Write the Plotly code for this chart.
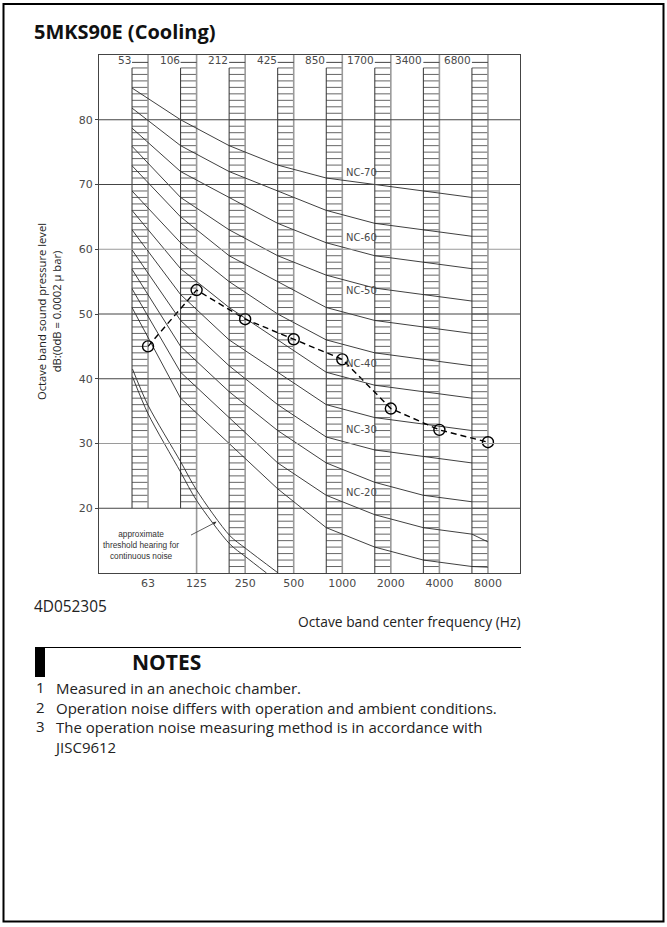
import plotly.graph_objects as go

# ---------------- data ----------------
bands = ["63", "125", "250", "500", "1000", "2000", "4000", "8000"]
top_labels = ["53", "106", "212", "425", "850", "1700", "3400", "6800"]
measured_db = [45.0, 53.7, 49.2, 46.1, 43.0, 35.4, 32.1, 30.2]

nc_names = ["NC-70", "NC-65", "NC-60", "NC-55", "NC-50", "NC-45",
            "NC-40", "NC-35", "NC-30", "NC-25", "NC-20", "NC-15"]
# NC curve values read at the 53 / 106 / 212 / ... / 6800 lines
nc_70 = [84.9, 80, 76, 73, 71, 70, 69, 68]
nc_65 = [81.8, 76, 72, 69, 66, 64, 63, 62]
nc_60 = [78.7, 72, 68, 64, 61, 59, 58, 57]
nc_55 = [75.9, 68, 63, 59, 56, 54, 53, 52]
nc_50 = [72.9, 65, 59, 55, 51, 49, 48, 47]
nc_45 = [69.0, 61, 55, 50, 46, 44, 43, 42]
nc_40 = [66.0, 57, 51, 46, 41, 39, 38, 37]
nc_35 = [63.0, 53, 46, 41, 36, 34, 33, 32]
nc_30 = [59.9, 49, 42, 36, 31, 29, 28, 27]
nc_25 = [56.9, 45, 38, 32, 27, 24, 22, 21]
nc_20 = [53.9, 41, 34, 27, 22, 19, 17, 16]
nc_15 = [51.0, 37, 30, 23, 17, 14, 12, 11]
nc_curves = [nc_70, nc_65, nc_60, nc_55, nc_50, nc_45,
             nc_40, nc_35, nc_30, nc_25, nc_20, nc_15]
# value of the lowest curves continued to the 8000 line
nc_8000_ext = [None] * 10 + [14.8, 10.9]

labelled_nc = ["NC-70", "NC-60", "NC-50", "NC-40", "NC-30", "NC-20"]
label_db = [71.8, 61.8, 53.6, 42.4, 32.1, 22.5]

# approximate threshold of hearing (two lines); x in octaves from 63 Hz
thr_oct_a = [-0.32, 0.0, 0.67, 1.0, 1.68, 2.01, 2.68]
thr_db_a = [41.5, 35.9, 27.2, 22.8, 15.8, 13.8, 10.0]
thr_oct_b = [-0.32, 0.0, 0.67, 1.0, 1.68, 2.01, 2.44]
thr_db_b = [40.3, 34.6, 25.6, 21.2, 14.5, 12.5, 10.0]

col_bottom_db = [20, 20, 10, 10, 10, 10, 10, 10]
col_top_db = 88
y_min, y_max = 10, 90
y_ticks = [20, 30, 40, 50, 60, 70, 80]

notes = ["Measured in an anechoic chamber.",
         "Operation noise differs with operation and ambient conditions.",
         "The operation noise measuring method is in accordance with<br>JISC9612"]

# ---------------- layout constants ----------------
FIG_W, FIG_H = 667, 927
L, R, T, B = 99, 520, 55, 573
PW, PH = R - L, B - T
W_COL = 0.33  # hatched column width (octaves)
X_RANGE = [-1.01, 7.66]

def px(x):
    return (x - L) / PW

def py(y):
    return (B - y) / PH

TXT_C = "#4a4a4a"
CAD_FONT = "DejaVu Sans"
TEXT_FONT = "Open Sans"

fig = go.Figure()

# hatching of the band columns
hx, hy = [], []
for i in range(len(bands)):
    for d in range(col_bottom_db[i] + 1, col_top_db + 1):
        hx += [i - W_COL, i, None]
        hy += [d, d, None]
fig.add_trace(go.Scatter(x=hx, y=hy, mode="lines",
                         line=dict(color="#555555", width=0.9),
                         hoverinfo="skip", showlegend=False))

# column left edges (dark) and centre lines (grey)
vx, vy = [], []
for i in range(len(bands)):
    vx += [i - W_COL, i - W_COL, None]
    vy += [col_bottom_db[i], col_top_db, None]
fig.add_trace(go.Scatter(x=vx, y=vy, mode="lines",
                         line=dict(color="#333333", width=1),
                         hoverinfo="skip", showlegend=False))
cx, cy = [], []
for i in range(len(bands)):
    bottom = y_min if i >= 1 else col_bottom_db[i]
    cx += [i, i, None]
    cy += [bottom, y_max, None]
fig.add_trace(go.Scatter(x=cx, y=cy, mode="lines",
                         line=dict(color="#9a9a9a", width=1.6),
                         hoverinfo="skip", showlegend=False))

# horizontal grid lines
for v in y_ticks:
    fig.add_shape(type="line", xref="x", yref="y", x0=X_RANGE[0], x1=X_RANGE[1],
                  y0=v, y1=v, line=dict(color="#9a9a9a" if v in (30, 60) else "#444444",
                                        width=1.2 if v in (30, 60) else 1),
                  layer="above")

# NC curves
for k, vals in enumerate(nc_curves):
    xs = [i - W_COL for i in range(len(vals))]
    ys = list(vals)
    if nc_8000_ext[k] is not None:
        xs.append(len(vals) - 1)
        ys.append(nc_8000_ext[k])
    fig.add_trace(go.Scatter(x=xs, y=ys, mode="lines", name=nc_names[k],
                             line=dict(color="#2a2a2a", width=0.9),
                             hoverinfo="skip", showlegend=False))

# threshold of hearing
for xo, yd in ((thr_oct_a, thr_db_a), (thr_oct_b, thr_db_b)):
    fig.add_trace(go.Scatter(x=xo, y=yd, mode="lines",
                             line=dict(color="#2a2a2a", width=0.9, shape="spline",
                                       smoothing=0.8),
                             hoverinfo="skip", showlegend=False))

# measured data
fig.add_trace(go.Scatter(x=list(range(len(bands))), y=measured_db, mode="lines+markers",
                         line=dict(color="black", width=1.4, dash="6px,4px"),
                         marker=dict(symbol="circle-open", size=11,
                                     line=dict(color="black", width=1.4)),
                         hoverinfo="skip", showlegend=False))

ann = []
# NC labels
for name, yv in zip(labelled_nc, label_db):
    ann.append(dict(x=4.08, y=yv, xref="x", yref="y", text=name, showarrow=False,
                    xanchor="left", yanchor="middle", xshift=-2,
                    font=dict(family=CAD_FONT, size=10, color=TXT_C)))
# top band-limit labels with dash
for i, t in enumerate(top_labels):
    ann.append(dict(x=i - W_COL, y=89.2, xref="x", yref="y", text=t, showarrow=False,
                    xanchor="right", yanchor="middle", xshift=1,
                    font=dict(family=CAD_FONT, size=10.5, color=TXT_C)))
    fig.add_shape(type="line", xref="x", yref="y", x0=i - W_COL, x1=i,
                  y0=88.86, y1=88.86, line=dict(color="#444444", width=1))

# threshold note and arrow
ann.append(dict(x=-0.14, y=14.4, xref="x", yref="y",
                text="approximate<br>threshold hearing for<br>continuous noise",
                showarrow=False, xanchor="center", yanchor="middle",
                font=dict(family="Liberation Sans", size=8.3, color="#333333")))
ann.append(dict(x=1.41, y=17.9, xref="x", yref="y", text="", showarrow=True,
                ax=-27, ay=14, arrowhead=2, arrowsize=0.8, arrowwidth=0.8,
                arrowcolor="#333333"))

# titles and texts around
ann.append(dict(x=px(32), y=py(32), xref="paper", yref="paper",
                text="<b>5MKS90E (Cooling)</b>", showarrow=False,
                xanchor="left", yanchor="middle",
                font=dict(family=TEXT_FONT, size=20, color="#111111")))
ann.append(dict(x=px(49), y=py(312), xref="paper", yref="paper",
                text="Octave band sound pressure level<br>dB:(0dB = 0.0002 µ bar)",
                showarrow=False, textangle=-90, xanchor="center", yanchor="middle",
                font=dict(family=TEXT_FONT, size=11.2, color="#222222")))
ann.append(dict(x=px(522), y=py(621), xref="paper", yref="paper",
                text="Octave band center frequency (Hz)", showarrow=False,
                xanchor="right", yanchor="middle",
                font=dict(family=TEXT_FONT, size=13.8, color="#222222")))
ann.append(dict(x=px(32), y=py(606), xref="paper", yref="paper",
                text="4D052305", showarrow=False, xanchor="left", yanchor="middle",
                font=dict(family=TEXT_FONT, size=15.4, color="#222222")))
ann.append(dict(x=px(130), y=py(662), xref="paper", yref="paper",
                text="<b>NOTES</b>", showarrow=False, xanchor="left", yanchor="middle",
                font=dict(family=TEXT_FONT, size=21, color="#111111")))
note_y = [687, 707, 726]
for n, (txt, yy) in enumerate(zip(notes, note_y), start=1):
    ann.append(dict(x=px(34), y=py(yy), xref="paper", yref="paper",
                    text=str(n), showarrow=False, xanchor="left", yanchor="middle",
                    font=dict(family=TEXT_FONT, size=15, color="#222222")))
    ann.append(dict(x=px(54), y=py(yy), xref="paper", yref="paper",
                    text=txt, showarrow=False, xanchor="left", yanchor="top",
                    yshift=11, xshift=-2 if "<br>" in txt else 0, align="left",
                    font=dict(family=TEXT_FONT, size=15, color="#222222")))

# page frame, notes bar and rule
fig.add_shape(type="rect", xref="paper", yref="paper", x0=px(3.5), x1=px(663.5),
              y0=py(921.5), y1=py(4), line=dict(color="black", width=2))
fig.add_shape(type="rect", xref="paper", yref="paper", x0=px(35), x1=px(45),
              y0=py(677), y1=py(647), fillcolor="black", line=dict(width=0))
fig.add_shape(type="line", xref="paper", yref="paper", x0=px(45), x1=px(521),
              y0=py(647.5), y1=py(647.5), line=dict(color="black", width=1))

fig.update_layout(
    width=FIG_W, height=FIG_H,
    margin=dict(l=L, r=FIG_W - R, t=T, b=FIG_H - B),
    paper_bgcolor="white", plot_bgcolor="white",
    annotations=ann, showlegend=False,
    xaxis=dict(range=X_RANGE, tickmode="array", tickvals=list(range(len(bands))),
               ticktext=bands, ticks="", showgrid=False, zeroline=False,
               showline=True, mirror=True, linecolor="#444444", linewidth=1,
               tickfont=dict(family=CAD_FONT, size=11, color=TXT_C)),
    yaxis=dict(range=[y_min, y_max], tickmode="array", tickvals=y_ticks,
               ticks="outside", ticklen=3, tickcolor="#444444", showgrid=False,
               zeroline=False, showline=True, mirror=True, linecolor="#444444",
               linewidth=1, tickfont=dict(family=CAD_FONT, size=11, color=TXT_C)),
)

fig.write_html("out.html", config={"displayModeBar": False},
               post_script="document.body.style.margin='0';document.body.style.padding='0';document.body.style.overflow='hidden';")
